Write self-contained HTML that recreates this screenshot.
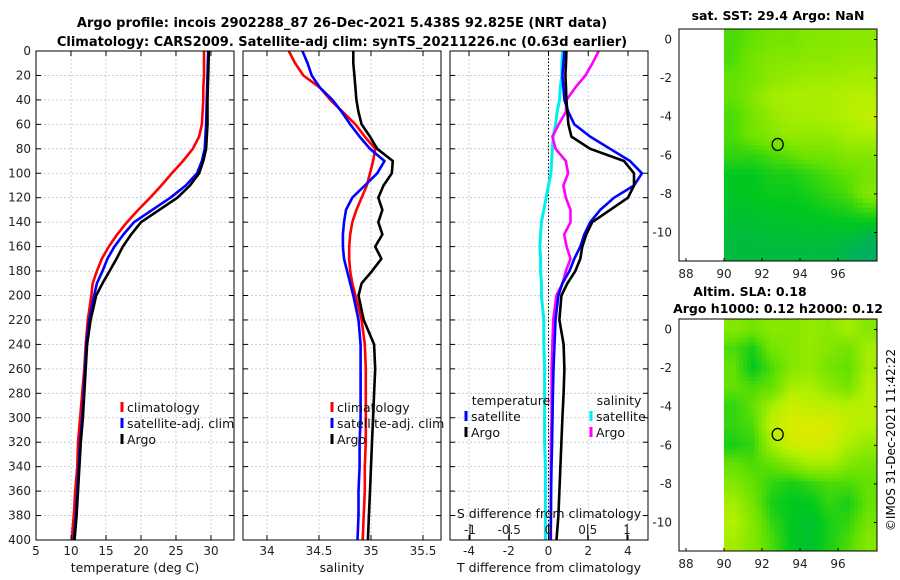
<!DOCTYPE html>
<html><head><meta charset="utf-8"><style>
body{margin:0;background:#fff;}
svg{display:block;font-family:"DejaVu Sans","Liberation Sans",sans-serif;}
</style></head><body>
<svg id="fig" width="900" height="580" viewBox="0 0 900 580" xmlns="http://www.w3.org/2000/svg">
<text x="342" y="27" font-size="13" font-weight="bold" text-anchor="middle">Argo profile: incois 2902288_87 26-Dec-2021 5.438S 92.825E (NRT data)</text>
<text x="342" y="46" font-size="13" font-weight="bold" text-anchor="middle">Climatology: CARS2009. Satellite-adj clim: synTS_20211226.nc (0.63d earlier)</text>
<text x="778" y="20" font-size="12.5" font-weight="bold" text-anchor="middle">sat. SST: 29.4 Argo: NaN</text>
<text x="750" y="296" font-size="12.5" font-weight="bold" text-anchor="middle">Altim. SLA: 0.18</text>
<text x="778" y="313" font-size="12.5" font-weight="bold" text-anchor="middle">Argo h1000: 0.12 h2000: 0.12</text>
<text transform="translate(895,440) rotate(-90)" font-size="12" text-anchor="middle">©IMOS 31-Dec-2021 11:42:22</text>
<g id="g"></g>
</svg>
<script>
const depths=[0,10,20,30,40,50,60,70,80,90,100,110,120,130,140,150,160,170,180,190,200,220,240,260,280,300,320,340,360,380,400];
const tempClim=[29.0,29.0,29.0,28.9,28.9,28.8,28.7,28.3,27.4,26.0,24.4,22.9,21.3,19.6,18.0,16.6,15.4,14.4,13.7,13.1,12.9,12.4,12.1,11.9,11.6,11.3,11.0,10.9,10.6,10.4,10.1];
const tempSat=[29.6,29.55,29.5,29.45,29.4,29.35,29.3,29.2,29.1,28.7,28.0,26.4,24.2,21.6,19.0,17.5,16.2,15.2,14.5,13.7,13.3,12.6,12.2,12.0,11.8,11.6,11.3,11.1,10.9,10.7,10.4];
const tempArgo=[29.7,29.65,29.6,29.55,29.5,29.5,29.5,29.4,29.3,28.9,28.3,27.0,25.2,22.6,20.0,18.6,17.4,16.5,15.5,14.5,13.6,12.8,12.3,12.1,11.9,11.7,11.4,11.2,11.0,10.8,10.5];
const salClim=[34.21,34.27,34.35,34.51,34.61,34.73,34.85,34.94,35.04,35.02,34.99,34.96,34.91,34.86,34.82,34.80,34.79,34.79,34.80,34.82,34.85,34.91,34.94,34.95,34.95,34.95,34.95,34.94,34.94,34.93,34.92];
const salSat=[34.34,34.39,34.43,34.51,34.63,34.72,34.80,34.89,34.99,35.13,35.06,34.94,34.82,34.76,34.74,34.73,34.73,34.74,34.77,34.80,34.83,34.88,34.90,34.90,34.90,34.90,34.89,34.89,34.88,34.88,34.87];
const salArgo=[34.83,34.83,34.84,34.85,34.86,34.88,34.91,34.99,35.06,35.21,35.20,35.12,35.07,35.11,35.07,35.11,35.04,35.10,35.01,34.91,34.88,34.93,35.03,35.04,35.03,35.02,35.01,35.00,34.99,34.98,34.97];
const dTSat=[0.8,0.75,0.7,0.75,0.8,1.0,1.3,2.1,3.1,4.1,4.7,4.3,3.3,2.6,2.1,1.8,1.6,1.3,1.05,0.7,0.5,0.35,0.3,0.25,0.22,0.2,0.18,0.15,0.13,0.12,0.1];
const dTArgo=[0.9,0.88,0.85,0.88,0.9,0.95,1.0,1.15,2.1,3.8,4.3,4.3,4.0,3.1,2.2,1.9,1.7,1.6,1.35,0.95,0.65,0.55,0.76,0.8,0.76,0.7,0.65,0.6,0.55,0.5,0.4];
const dSSat=[0.18,0.17,0.17,0.15,0.14,0.11,0.09,0.06,0.05,0.04,0.03,0.0,-0.03,-0.06,-0.09,-0.1,-0.11,-0.1,-0.1,-0.09,-0.09,-0.06,-0.06,-0.05,-0.05,-0.05,-0.05,-0.04,-0.04,-0.04,-0.04];
const dSArgo=[0.64,0.56,0.47,0.34,0.23,0.22,0.13,0.05,0.09,0.22,0.25,0.19,0.22,0.28,0.28,0.2,0.23,0.28,0.22,0.18,0.1,0.06,0.05,0.04,0.04,0.04,0.03,0.03,0.03,0.03,0.03];
const depthTicks=[0,20,40,60,80,100,120,140,160,180,200,220,240,260,280,300,320,340,360,380,400];
const tempTicks=[5,10,15,20,25,30];
const salTicks=[34,34.5,35,35.5];
const salTickLabels=["34","34.5","35","35.5"];
const dTTicks=[-4,-2,0,2,4];
const dSTicks=[-1,-0.5,0,0.5,1];
const dSTickLabels=["-1","-0.5","0","0.5","1"];
const lonTicks=[88,90,92,94,96];
const latTicks=[0,-2,-4,-6,-8,-10];
// map values (0=teal/green .. 1=yellow), rows from lat 0.5 to -11.3, cols lon 90..98
const sstGrid=[
[0.45,0.5,0.55,0.55,0.6,0.6,0.62,0.62],
[0.45,0.55,0.6,0.6,0.62,0.62,0.65,0.65],
[0.5,0.55,0.62,0.65,0.68,0.68,0.7,0.7],
[0.5,0.6,0.7,0.72,0.72,0.72,0.75,0.75],
[0.45,0.55,0.65,0.7,0.7,0.72,0.75,0.8],
[0.45,0.55,0.6,0.65,0.65,0.65,0.7,0.72],
[0.4,0.4,0.45,0.5,0.55,0.55,0.6,0.6],
[0.3,0.3,0.35,0.35,0.4,0.45,0.5,0.55],
[0.28,0.3,0.32,0.32,0.35,0.4,0.45,0.6],
[0.25,0.26,0.28,0.28,0.3,0.32,0.35,0.4],
[0.22,0.22,0.24,0.24,0.25,0.25,0.25,0.2],
[0.2,0.2,0.2,0.2,0.2,0.2,0.15,0.1]];
const slaGrid=[
[0.6,0.55,0.62,0.6,0.65,0.62,0.7,0.6],
[0.45,0.35,0.55,0.6,0.65,0.6,0.55,0.7],
[0.5,0.3,0.45,0.6,0.65,0.55,0.5,0.7],
[0.5,0.45,0.5,0.7,0.72,0.62,0.55,0.75],
[0.4,0.5,0.7,0.85,0.8,0.78,0.75,0.78],
[0.4,0.45,0.8,0.9,0.92,0.9,0.8,0.75],
[0.35,0.4,0.7,0.85,0.9,0.85,0.72,0.65],
[0.5,0.45,0.5,0.6,0.7,0.7,0.6,0.55],
[0.6,0.5,0.4,0.35,0.4,0.45,0.45,0.5],
[0.7,0.55,0.35,0.3,0.3,0.4,0.35,0.5],
[0.75,0.6,0.4,0.3,0.25,0.35,0.4,0.55],
[0.7,0.6,0.45,0.3,0.25,0.35,0.45,0.6]];
const argoLon=92.825, argoLat=-5.438;

const NS="http://www.w3.org/2000/svg";
const G=document.getElementById('g');
function mk(t,a,p){const e=document.createElementNS(NS,t);for(const k in a)e.setAttribute(k,a[k]);(p||G).appendChild(e);return e;}
const yTop=51,yBot=540;
const yD=d=>yTop+d*(yBot-yTop)/400;
function lin(d0,d1,r0,r1){return v=>r0+(v-d0)*(r1-r0)/(d1-d0);}
const panels=[
 {x0:36,x1:234,sx:lin(5,33.29,36,234),name:'temperature-panel'},
 {x0:243,x1:441,sx:lin(34,35.5,267,423),name:'salinity-panel'},
 {x0:450,x1:648,sx:lin(-4,4,469,628),name:'difference-panel'}];
const sS3=lin(-1,1,470,627);
function grid(p,ticks,sx){
 const gg=mk('g',{});
 
 
 ticks.forEach(t=>{const x=sx(t);mk('line',{x1:x,x2:x,y1:yTop,y2:yBot,stroke:'#b8c4dd','stroke-width':0.8,'stroke-dasharray':'2,2'},gg);});
 depthTicks.forEach(d=>{const y=yD(d);mk('line',{x1:p.x0,x2:p.x1,y1:y,y2:y,stroke:'#b8c4dd','stroke-width':0.8,'stroke-dasharray':'2,2'},gg);
  mk('line',{x1:p.x0,x2:p.x0+5,y1:y,y2:y,stroke:'#000'},gg);mk('line',{x1:p.x1-5,x2:p.x1,y1:y,y2:y,stroke:'#000'},gg);});
}
function frame(p){const r=mk('rect',{x:p.x0,y:yTop,width:p.x1-p.x0,height:yBot-yTop,fill:'none',stroke:'#000','stroke-width':1});
 
 }
function xt(p,ticks,labels,sx,y,top){ticks.forEach((t,i)=>{const x=sx(t);
 mk('line',{x1:x,x2:x,y1:yBot,y2:yBot-5,stroke:'#000'});if(!top)mk('line',{x1:x,x2:x,y1:yTop,y2:yTop+5,stroke:'#000'});
 const tx=mk('text',{x:x,y:y,'font-size':12,'text-anchor':'middle',fill:'#222'});tx.textContent=labels[i];
 
 });}
function line(vals,sx,col,name,w){
 const pts=vals.map((v,i)=>sx(v).toFixed(1)+','+yD(depths[i]).toFixed(1)).join(' ');
 const pl=mk('polyline',{points:pts,fill:'none',stroke:col,'stroke-width':w||2.6,'stroke-linejoin':'round'});
 
 }
function legend(x,y,items){items.forEach((it,i)=>{const yy=y+i*16;
 mk('line',{x1:x,x2:x,y1:yy-10,y2:yy,stroke:it[1],'stroke-width':3});
 const t=mk('text',{x:x+5,y:yy,'font-size':12.5,fill:'#111'});t.textContent=it[0];
 
 });}
// panel 1
grid(panels[0],tempTicks,panels[0].sx);
line(tempClim,panels[0].sx,'#ff0000','temp-climatology-line');
line(tempSat,panels[0].sx,'#0000ff','temp-satellite-line');
line(tempArgo,panels[0].sx,'#000','temp-argo-line');
frame(panels[0]);
xt(panels[0],tempTicks,tempTicks.map(String),panels[0].sx,555);
depthTicks.forEach(d=>{const t=mk('text',{x:31,y:yD(d)+4,'font-size':12,'text-anchor':'end',fill:'#222'});t.textContent=d;
 
 });
legend(122,412,[['climatology','#ff0000'],['satellite-adj. clim','#0000ff'],['Argo','#000']]);
// panel 2
grid(panels[1],salTicks,panels[1].sx);
line(salClim,panels[1].sx,'#ff0000','sal-climatology-line');
line(salSat,panels[1].sx,'#0000ff','sal-satellite-line');
line(salArgo,panels[1].sx,'#000','sal-argo-line');
frame(panels[1]);
xt(panels[1],salTicks,salTickLabels,panels[1].sx,555);
legend(332,412,[['climatology','#ff0000'],['satellite-adj. clim','#0000ff'],['Argo','#000']]);
// panel 3
grid(panels[2],dTTicks,panels[2].sx);
mk('line',{x1:panels[2].sx(0),x2:panels[2].sx(0),y1:yTop,y2:yBot,stroke:'#000','stroke-dasharray':'1.5,2','stroke-width':1});
line(dSSat,sS3,'#00eeee','sal-diff-satellite-line',3);
line(dSArgo,sS3,'#ff00ff','sal-diff-argo-line',2.6);
line(dTSat,panels[2].sx,'#0000ff','temp-diff-satellite-line');
line(dTArgo,panels[2].sx,'#000','temp-diff-argo-line');
frame(panels[2]);
xt(panels[2],dTTicks,dTTicks.map(String),panels[2].sx,555);
dSTicks.forEach((t,i)=>{const x=sS3(t);mk('line',{x1:x,x2:x,y1:yBot,y2:yBot-16,stroke:'#000'});
 const tx=mk('text',{x:x,y:534,'font-size':12,'text-anchor':'middle',fill:'#222'});tx.textContent=dSTickLabels[i];
 
 });
[['S difference from climatology',549,518,'s-diff-axis-title'],['temperature',511,405,'legend-title-temperature'],['salinity',619,405,'legend-title-salinity']].forEach(a=>{const t=mk('text',{x:a[1],y:a[2],'font-size':12.5,'text-anchor':'middle',fill:'#111'});t.textContent=a[0];
 
 });
legend(466,421,[['satellite','#0000ff'],['Argo','#000']]);
legend(591,421,[['satellite','#00eeee'],['Argo','#ff00ff']]);
[['temperature (deg C)',135,'x-axis-title-temperature'],['salinity',342,'x-axis-title-salinity'],['T difference from climatology',549,'x-axis-title-tdiff']].forEach(a=>{const t=mk('text',{x:a[1],y:572,'font-size':12.5,'text-anchor':'middle',fill:'#111'});t.textContent=a[0];
 
 });
// maps
function cmap(v){const st=[[0,[0,160,130]],[0.3,[0,200,30]],[0.5,[100,225,0]],[0.75,[180,240,0]],[1,[240,232,0]]];
 v=Math.max(0,Math.min(1,v));for(let i=1;i<st.length;i++){if(v<=st[i][0]){const f=(v-st[i-1][0])/(st[i][0]-st[i-1][0]);const a=st[i-1][1],b=st[i][1];return 'rgb('+a.map((c,k)=>Math.round(c+(b[k]-c)*f)).join(',')+')';}}return 'rgb(240,232,0)';}
function drawMap(gridv,top,bot,name,up){
 const x0=679,x1=877,lx=lin(88,96,686,838);
 const ly=lin(0,-10,top+10.5,top+10.5+193);
 const gm=mk('g',{});
 
 
 const R=gridv.length,C=gridv[0].length;
 const dx0=lx(90),dx1=x1;
 const nr=R*up,nc=C*up;const cw=(dx1-dx0)/nc,ch=(bot-top)/nr;
 for(let r=0;r<nr;r++)for(let c=0;c<nc;c++){
  const fr=Math.max(0,Math.min(R-1,(r+0.5)/up-0.5)),fc=Math.max(0,Math.min(C-1,(c+0.5)/up-0.5));
  const r0=Math.floor(fr),c0=Math.floor(fc),r1=Math.min(R-1,r0+1),c1=Math.min(C-1,c0+1),a=fr-r0,b=fc-c0;
  const v=gridv[r0][c0]*(1-a)*(1-b)+gridv[r0][c1]*(1-a)*b+gridv[r1][c0]*a*(1-b)+gridv[r1][c1]*a*b;
  mk('rect',{x:(dx0+c*cw).toFixed(2),y:(top+r*ch).toFixed(2),width:(cw+0.4).toFixed(2),height:(ch+0.4).toFixed(2),fill:cmap(v)},gm);}
 mk('rect',{x:x0,y:top,width:x1-x0,height:bot-top,fill:'none',stroke:'#000'},gm);
 const m=mk('ellipse',{cx:lx(argoLon),cy:ly(argoLat),rx:5.5,ry:6,fill:'none',stroke:'#000','stroke-width':1.3},gm);
 
 
 lonTicks.forEach(t=>{const x=lx(t);mk('line',{x1:x,x2:x,y1:bot,y2:bot-3,stroke:'#000'},gm);
  const tx=mk('text',{x:x,y:bot+17,'font-size':12,'text-anchor':'middle',fill:'#222'},gm);tx.textContent=t;
  
  });
 latTicks.forEach(t=>{const y=ly(t);mk('line',{x1:x1,x2:x1-3,y1:y,y2:y,stroke:'#000'},gm);
  const tx=mk('text',{x:672,y:y+4,'font-size':12,'text-anchor':'end',fill:'#222'},gm);tx.textContent=t;
  
  });
}
drawMap(sstGrid,29,261,'sst-map',4);
drawMap(slaGrid,319,551,'sla-map',5);
</script>
</body></html>
